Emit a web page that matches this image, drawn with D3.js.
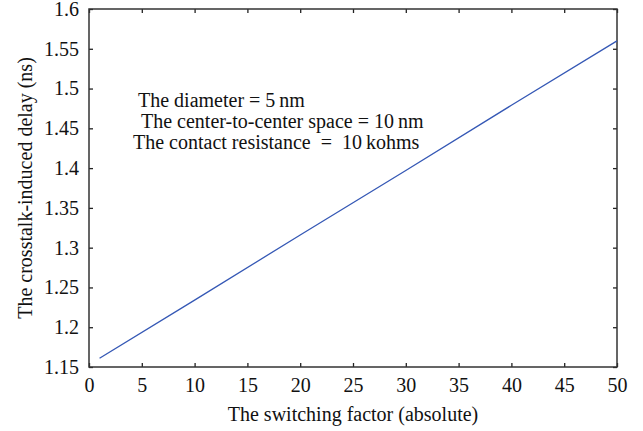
<!DOCTYPE html>
<html>
<head>
<meta charset="utf-8">
<script src="https://cdn.jsdelivr.net/npm/d3@7"></script>
<style>
  body { margin: 0; background: #fff; }
</style>
</head>
<body>
<div id="chart"></div>
<script>
// switching factor vs delay (ns)
const factors = [1, 10, 20, 30, 40, 50]
const delays = [1.161, 1.234, 1.316, 1.397, 1.479, 1.560]
const xTicks = [0, 5, 10, 15, 20, 25, 30, 35, 40, 45, 50]
const yTicks = [1.15, 1.2, 1.25, 1.3, 1.35, 1.4, 1.45, 1.5, 1.55, 1.6]
const notes = [
  'The diameter = 5\u2009nm',
  'The center-to-center space = 10\u2009nm',
  'The contact resistance\u00a0\u00a0=\u00a0\u00a010\u2009kohms'
]

const width = 643, height = 431
const m = { top: 9, right: 26, bottom: 64, left: 89 }
const w = width - m.left - m.right
const h = height - m.top - m.bottom
const serif = 'Liberation Serif'
const fs = '20px'

const svg = d3.select('#chart').append('svg')
  .attr('width', width).attr('height', height)
  .attr('font-family', serif)
const view = svg.append('g').attr('transform', `translate(${m.left},${m.top})`)

const x = d3.scaleLinear().domain([0, 50]).range([0, w])
const y = d3.scaleLinear().domain([1.15, 1.6]).range([h, 0])

const fmtY = d => d3.format('.2~f')(d)
const styleAxis = g => {
  g.attr('font-family', serif).attr('font-size', fs)
  g.select('.domain').remove()
  g.selectAll('line').attr('stroke', '#222').attr('stroke-width', 1.3)
  g.selectAll('text').attr('fill', '#111')
}

// bottom + left with labels, ticks pointing inward
view.append('g').attr('transform', `translate(0,${h})`)
  .call(d3.axisBottom(x).tickValues(xTicks).tickSizeInner(-4).tickSizeOuter(0).tickPadding(11))
  .call(styleAxis)
view.append('g')
  .call(d3.axisLeft(y).tickValues(yTicks).tickFormat(fmtY).tickSizeInner(-4).tickSizeOuter(0).tickPadding(10))
  .call(styleAxis)
// mirrored top + right ticks
view.append('g')
  .call(d3.axisTop(x).tickValues(xTicks).tickSizeInner(-4).tickSizeOuter(0).tickFormat(''))
  .call(styleAxis)
view.append('g').attr('transform', `translate(${w},0)`)
  .call(d3.axisRight(y).tickValues(yTicks).tickSizeInner(-4).tickSizeOuter(0).tickFormat(''))
  .call(styleAxis)

view.append('rect')
  .attr('width', w).attr('height', h)
  .attr('fill', 'none').attr('stroke', '#333').attr('stroke-width', 1.5)

const line = d3.line().x((d, i) => x(factors[i])).y(d => y(d))
view.append('path').datum(delays)
  .attr('d', line)
  .attr('fill', 'none').attr('stroke', '#3558b5').attr('stroke-width', 1.3)

const noteX = [49, 52, 44]
view.selectAll('.note').data(notes).enter().append('text')
  .attr('class', 'note')
  .attr('x', (d, i) => noteX[i])
  .attr('y', (d, i) => 98 + i * 21)
  .attr('font-size', fs).attr('fill', '#111')
  .text(d => d)

svg.append('text')
  .attr('x', m.left + w / 2).attr('y', 421)
  .attr('text-anchor', 'middle').attr('font-size', fs).attr('fill', '#111')
  .text('The switching factor (absolute)')

svg.append('text')
  .attr('transform', `translate(32,${m.top + h / 2}) rotate(-90)`)
  .attr('text-anchor', 'middle').attr('font-size', fs).attr('fill', '#111')
  .text('The crosstalk-induced delay (ns)')
</script>
</body>
</html>
